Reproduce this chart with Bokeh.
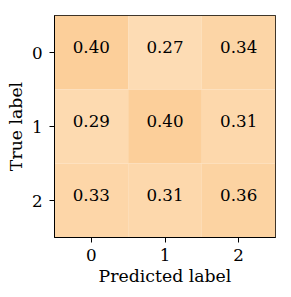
from bokeh.plotting import figure
from bokeh.models import ColumnDataSource, LinearColorMapper, FixedTicker
from bokeh.transform import transform
from bokeh.core.properties import value
from bokeh.embed import file_html
from bokeh.resources import INLINE

# ---- data ----
predicted_labels = ["0", "1", "2"]
true_labels = ["0", "1", "2"]
row0 = [0.40, 0.27, 0.34]
row1 = [0.29, 0.40, 0.31]
row2 = [0.33, 0.31, 0.36]
matrix = [row0, row1, row2]

xs, ys, vals, txt = [], [], [], []
for i, row in enumerate(matrix):
    for j, v in enumerate(row):
        xs.append(j)
        ys.append(i)
        vals.append(v)
        txt.append(f"{v:.2f}")
src = ColumnDataSource(dict(x=xs, y=ys, v=vals, t=txt))

# palette: light -> darker orange
def hex2rgb(h):
    h = h.lstrip("#")
    return [int(h[k:k + 2], 16) for k in (0, 2, 4)]

lo, hi = hex2rgb("#fddcb4"), hex2rgb("#fccf9a")
palette = []
for k in range(256):
    f = k / 255
    c = [round(lo[m] + (hi[m] - lo[m]) * f) for m in range(3)]
    palette.append("#%02x%02x%02x" % tuple(c))
mapper = LinearColorMapper(palette=palette, low=min(vals), high=max(vals))

FONT = "DejaVu Serif"
FS = "16.7px"
FS_LABEL = "17.3px"

p = figure(width=283, height=289, output_backend="svg", toolbar_location=None,
           x_range=(-0.5, 2.5), y_range=(2.5, -0.5),
           min_border_left=54, min_border_right=8, min_border_top=15, min_border_bottom=52)
p.rect(x="x", y="y", width=1, height=1, source=src,
       fill_color=transform("v", mapper), line_color=None)
p.text(x="x", y="y", text="t", source=src, text_align="center", text_baseline="middle",
       y_offset=-6, text_font=value(FONT), text_font_size=FS, text_color="black")

p.grid.visible = False
p.outline_line_color = "black"
p.outline_line_width = 1
p.background_fill_color = "white"
p.border_fill_color = "white"

for ax in (p.xaxis[0], p.yaxis[0]):
    ax.ticker = FixedTicker(ticks=[0, 1, 2])
    ax.major_label_overrides = {0: "0", 1: "1", 2: "2"}
    ax.minor_tick_line_color = None
    ax.major_tick_in = 0
    ax.major_tick_out = 5
    ax.major_tick_line_color = "black"
    ax.axis_line_color = "black"
    ax.major_label_text_font = FONT
    ax.major_label_text_font_size = FS
    ax.major_label_text_color = "black"
    ax.axis_label_text_font = FONT
    ax.axis_label_text_font_size = FS_LABEL
    ax.axis_label_text_font_style = "normal"
    ax.axis_label_text_color = "black"

p.xaxis.axis_label = "Predicted label"
p.yaxis.axis_label = "True label"
p.xaxis.major_label_standoff = 6
p.yaxis.major_label_standoff = 7
p.xaxis.axis_label_standoff = 2
p.yaxis.axis_label_standoff = 3

open("out.html", "w").write(file_html(p, INLINE))
